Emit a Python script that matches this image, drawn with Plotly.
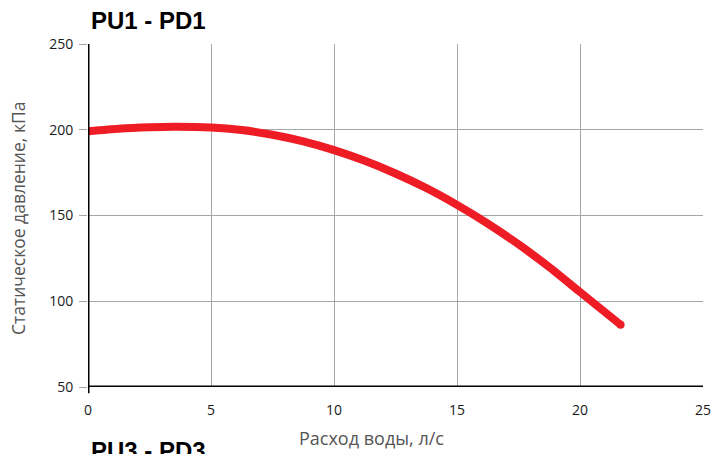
import plotly.graph_objects as go

# Pump curve PU1 - PD1: static pressure vs. water flow
flow_lps = [0, 1.25, 2.5, 3.5, 5, 6.25, 7.5, 8.75, 10, 11.25, 12.5,
            13.75, 15, 16.25, 17.5, 18.75, 20, 21.65]
pressure_kpa = [199.1, 200.6, 201.4, 201.7, 201.3, 199.8, 197.1, 193.2, 188.1, 181.9, 174.5,
                166.0, 156.2, 145.3, 133.2, 119.9, 105.4, 86.3]

x_ticks = [0, 5, 10, 15, 20, 25]
y_ticks = [50, 100, 150, 200, 250]

curve_color = "#ee1c25"
grid_color = "#a6a6a6"
W, H = 713, 454
M = dict(l=88, r=10, t=44, b=67)
PW, PH = W - M["l"] - M["r"], H - M["t"] - M["b"]

fig = go.Figure()
fig.add_trace(go.Scatter(
    x=flow_lps, y=pressure_kpa, mode="lines",
    line=dict(color=curve_color, width=8, shape="spline", smoothing=0.6),
    hoverinfo="skip", showlegend=False,
))
# rounded ends of the curve
fig.add_trace(go.Scatter(
    x=[flow_lps[0], flow_lps[-1]], y=[pressure_kpa[0], pressure_kpa[-1]],
    mode="markers", marker=dict(color=curve_color, size=8, line=dict(width=0)),
    hoverinfo="skip", showlegend=False,
))

fig.update_xaxes(
    range=[0, 25], tickvals=x_ticks, showgrid=True, gridcolor=grid_color, gridwidth=1.3,
    showline=False, zeroline=False, ticks="outside", ticklen=10, tickcolor="rgba(0,0,0,0)",
    tickfont=dict(family="Open Sans", size=14, color="#1a1a1a"), automargin=False,
)
fig.update_yaxes(
    range=[50, 250], tickvals=y_ticks, showgrid=True, gridcolor=grid_color, gridwidth=1.3,
    showline=False, zeroline=False, ticks="outside", ticklen=8, tickcolor=grid_color,
    tickwidth=1.3, ticklabelstandoff=3,
    tickfont=dict(family="Open Sans", size=14, color="#1a1a1a"), automargin=False,
)

# black axis lines on the left and bottom
fig.add_shape(type="line", xref="x", yref="paper", x0=0, x1=0, y0=-0.018, y1=1,
              line=dict(color="black", width=3))
fig.add_shape(type="line", xref="paper", yref="y", x0=0, x1=1, y0=50, y1=50,
              line=dict(color="black", width=3))

fig.add_annotation(text="Расход воды, л/с", xref="paper", yref="paper",
                   x=(371.5 - M["l"]) / PW, y=-(438 - (H - M["b"])) / PH,
                   showarrow=False, xanchor="center", yanchor="middle",
                   font=dict(family="Open Sans", size=18, color="#555555"))
fig.add_annotation(text="Статическое давление, кПа", xref="paper", yref="paper",
                   x=-(M["l"] - 18) / PW, y=1 - (219 - M["t"]) / PH, textangle=-90,
                   showarrow=False, xanchor="center", yanchor="middle",
                   font=dict(family="Open Sans", size=17.5, color="#555555"))
fig.add_annotation(text="<b>PU1 - PD1</b>", xref="paper", yref="paper",
                   x=(89 - M["l"]) / PW, y=1 + (M["t"] - 20) / PH,
                   showarrow=False, xanchor="left", yanchor="middle",
                   font=dict(family="Liberation Sans", size=24, color="black"))
fig.add_annotation(text="<b>PU3 - PD3</b>", xref="paper", yref="paper",
                   x=(89 - M["l"]) / PW, y=-(450 - (H - M["b"])) / PH,
                   showarrow=False, xanchor="left", yanchor="middle",
                   font=dict(family="Liberation Sans", size=24, color="black"))

fig.update_layout(
    width=W, height=H, margin=M, paper_bgcolor="white", plot_bgcolor="white",
)

fig.write_html("out.html", include_plotlyjs=True)
